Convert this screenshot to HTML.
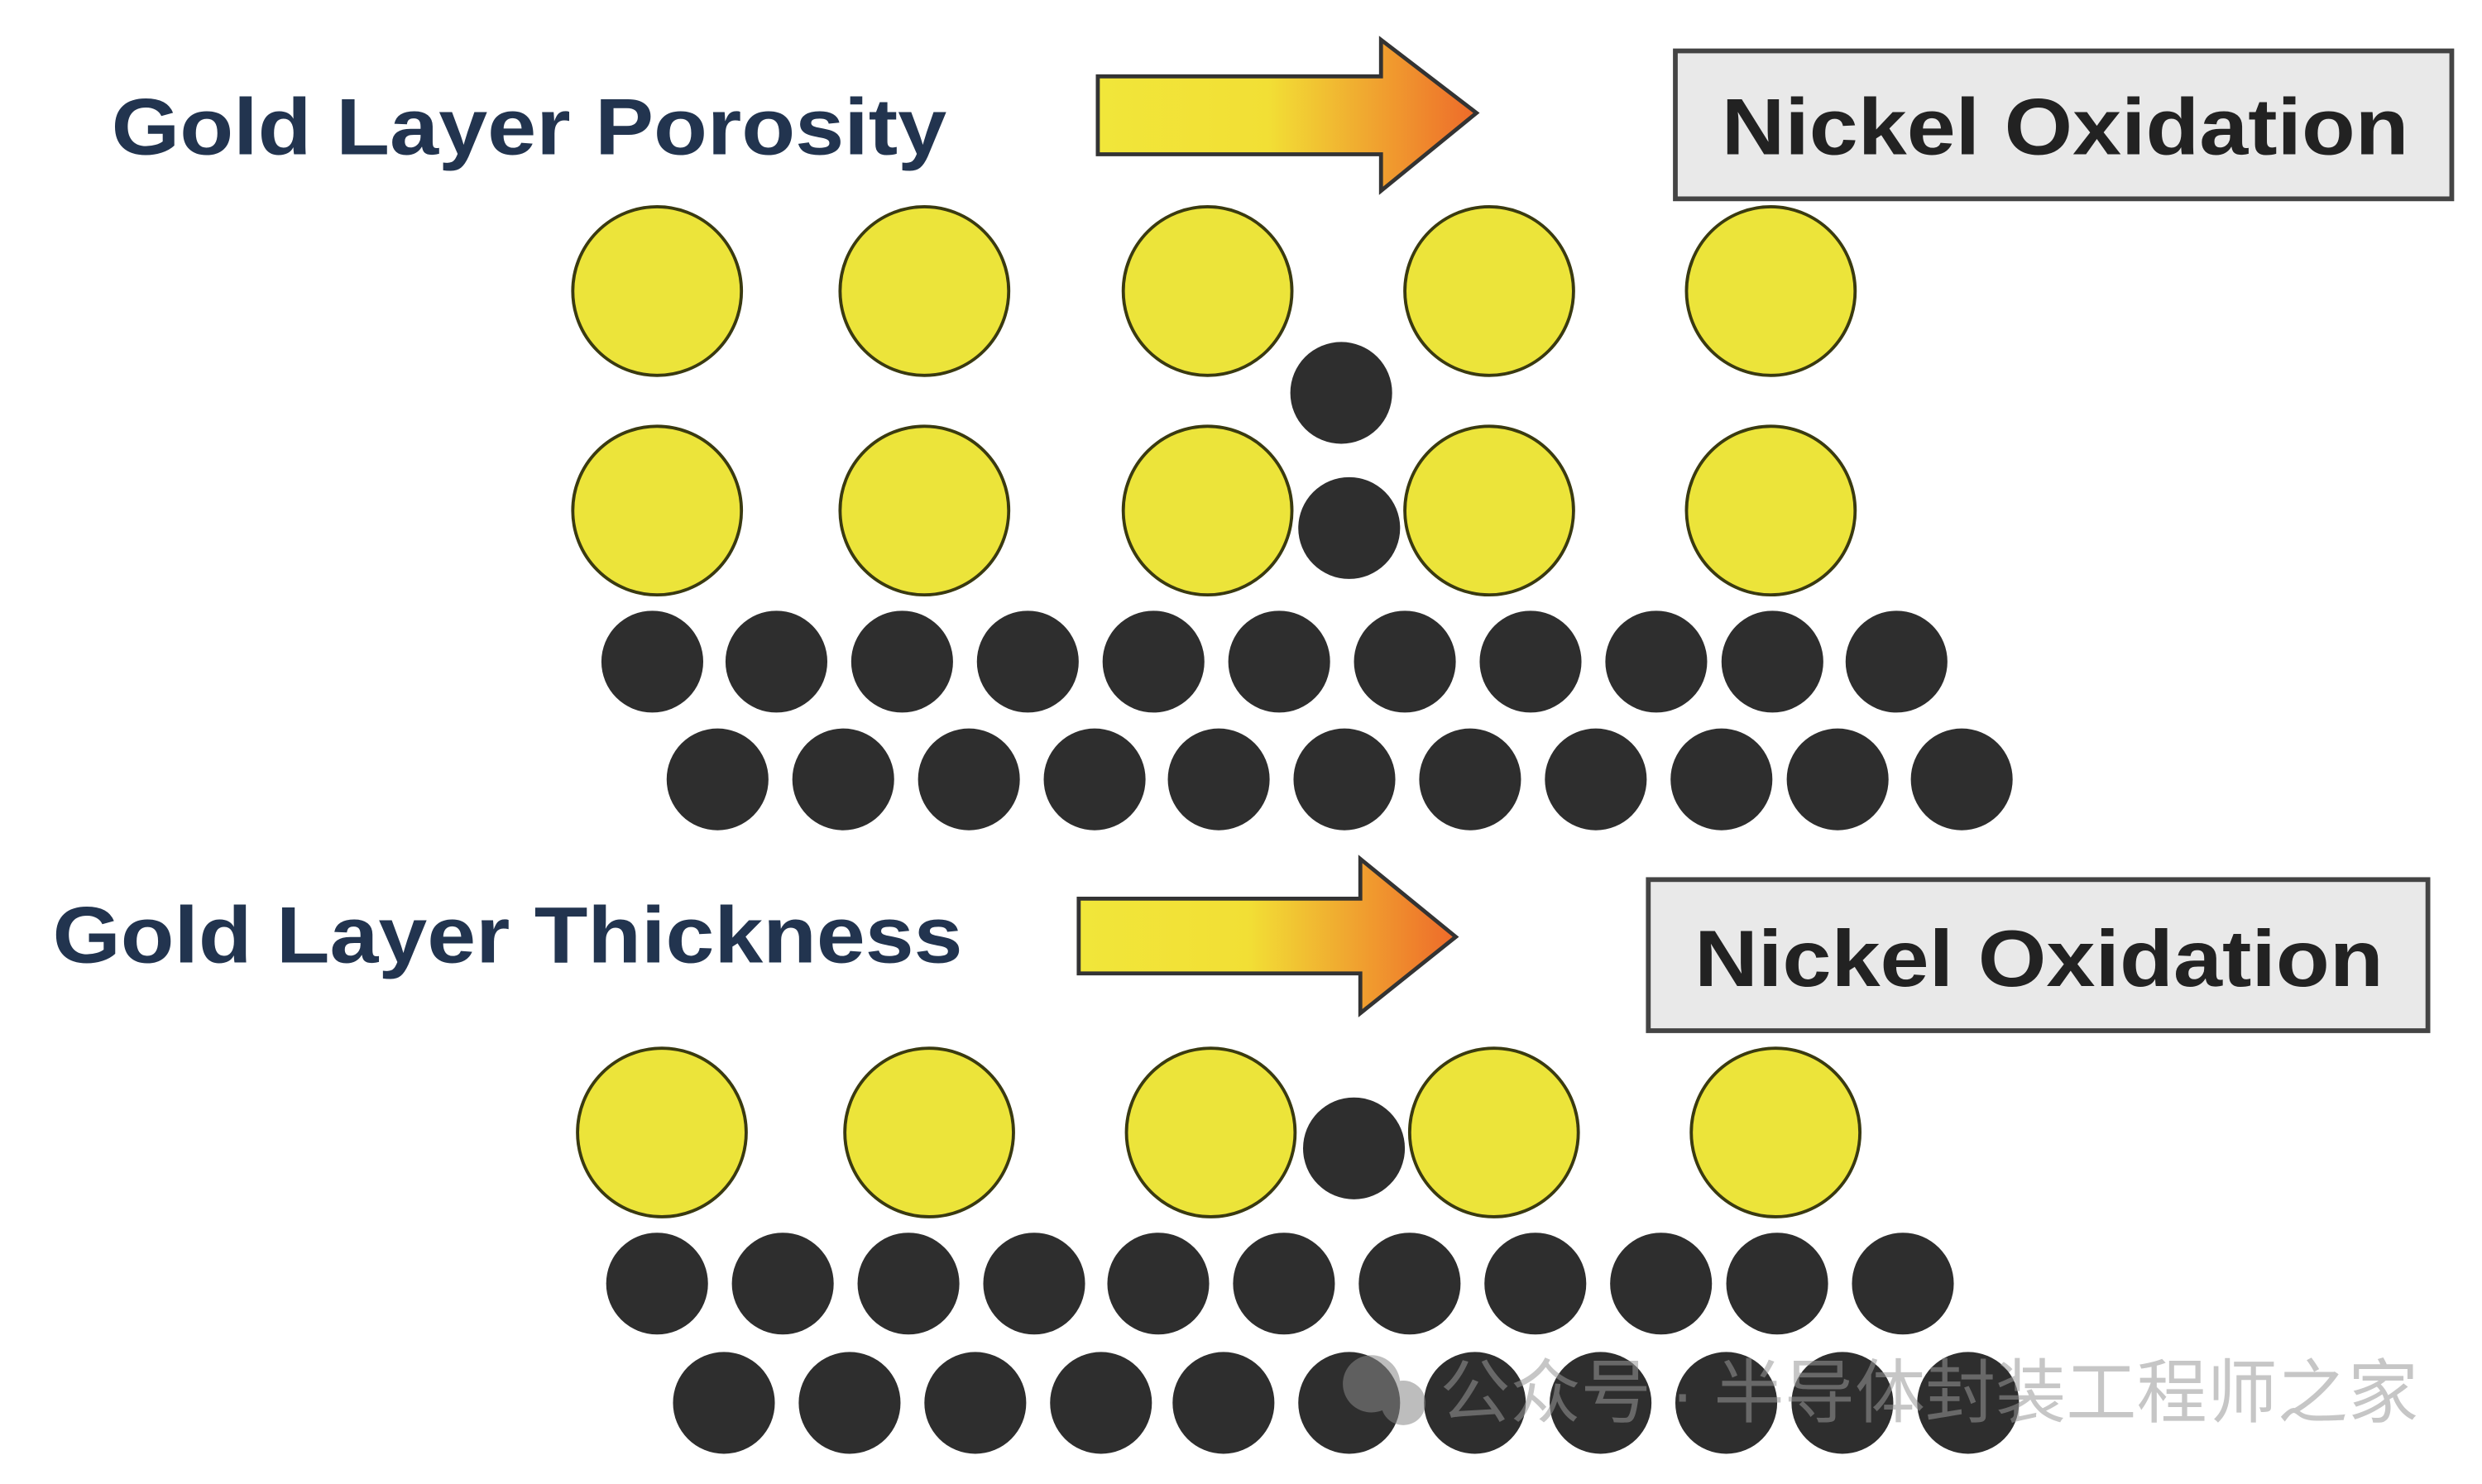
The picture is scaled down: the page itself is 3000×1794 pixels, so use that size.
<!DOCTYPE html>
<html><head><meta charset="utf-8"><style>html,body{margin:0;padding:0;background:#fff}svg{display:block}</style></head>
<body>
<svg width="3000" height="1794" viewBox="0 0 1560 933" preserveAspectRatio="none" xmlns="http://www.w3.org/2000/svg">
<defs>
<linearGradient id="g" x1="0" x2="1" y1="0" y2="0">
<stop offset="0" stop-color="#f1e63a"/><stop offset="0.45" stop-color="#f2df35"/><stop offset="1" stop-color="#ee6a2a"/>
</linearGradient>
</defs>
<rect width="1560" height="933" fill="#fff"/>
<g font-family="Liberation Sans, sans-serif" font-weight="bold">
<text x="70" y="97" font-size="50" fill="#22344f" textLength="525" lengthAdjust="spacingAndGlyphs">Gold Layer Porosity</text>
<text x="33" y="605" font-size="50" fill="#22344f" textLength="572" lengthAdjust="spacingAndGlyphs">Gold Layer Thickness</text>
</g>
<path d="M690,48 H868 V25 L928,71 L868,120 V97 H690 Z" fill="url(#g)" stroke="#333" stroke-width="2.5"/>
<path d="M678,565 H855 V540 L915,589 L855,637 V612 H678 Z" fill="url(#g)" stroke="#333" stroke-width="2.5"/>
<rect x="1053" y="32" width="488" height="93" fill="#e9e9e9" stroke="#444" stroke-width="3"/>
<rect x="1036" y="553" width="490" height="95" fill="#e9e9e9" stroke="#444" stroke-width="3"/>
<g font-family="Liberation Sans, sans-serif" font-weight="bold" font-size="50" fill="#222">
<text x="1082" y="97" textLength="432" lengthAdjust="spacingAndGlyphs">Nickel Oxidation</text>
<text x="1065" y="620" textLength="433" lengthAdjust="spacingAndGlyphs">Nickel Oxidation</text>
</g>
<g fill="#2e2e2e">
<circle cx="843" cy="247" r="32"/>
<circle cx="848" cy="332" r="32"/>
<circle cx="851" cy="722" r="32"/>
</g>
<g fill="#ece43a" stroke="#3a3a10" stroke-width="2">
<circle cx="413" cy="183" r="53"/><circle cx="581" cy="183" r="53"/><circle cx="759" cy="183" r="53"/><circle cx="936" cy="183" r="53"/><circle cx="1113" cy="183" r="53"/>
<circle cx="413" cy="321" r="53"/><circle cx="581" cy="321" r="53"/><circle cx="759" cy="321" r="53"/><circle cx="936" cy="321" r="53"/><circle cx="1113" cy="321" r="53"/>
<circle cx="416" cy="712" r="53"/><circle cx="584" cy="712" r="53"/><circle cx="761" cy="712" r="53"/><circle cx="939" cy="712" r="53"/><circle cx="1116" cy="712" r="53"/>
</g>
<circle cx="848" cy="332" r="32" fill="#2e2e2e" clip-path="none" opacity="0"/>
<g fill="#2e2e2e">
<circle cx="410" cy="416" r="32"/><circle cx="488" cy="416" r="32"/><circle cx="567" cy="416" r="32"/><circle cx="646" cy="416" r="32"/><circle cx="725" cy="416" r="32"/><circle cx="804" cy="416" r="32"/><circle cx="883" cy="416" r="32"/><circle cx="962" cy="416" r="32"/><circle cx="1041" cy="416" r="32"/><circle cx="1114" cy="416" r="32"/><circle cx="1192" cy="416" r="32"/>
<circle cx="451" cy="490" r="32"/><circle cx="530" cy="490" r="32"/><circle cx="609" cy="490" r="32"/><circle cx="688" cy="490" r="32"/><circle cx="766" cy="490" r="32"/><circle cx="845" cy="490" r="32"/><circle cx="924" cy="490" r="32"/><circle cx="1003" cy="490" r="32"/><circle cx="1082" cy="490" r="32"/><circle cx="1155" cy="490" r="32"/><circle cx="1233" cy="490" r="32"/>
<circle cx="413" cy="807" r="32"/><circle cx="492" cy="807" r="32"/><circle cx="571" cy="807" r="32"/><circle cx="650" cy="807" r="32"/><circle cx="728" cy="807" r="32"/><circle cx="807" cy="807" r="32"/><circle cx="886" cy="807" r="32"/><circle cx="965" cy="807" r="32"/><circle cx="1044" cy="807" r="32"/><circle cx="1117" cy="807" r="32"/><circle cx="1196" cy="807" r="32"/>
<circle cx="455" cy="882" r="32"/><circle cx="534" cy="882" r="32"/><circle cx="613" cy="882" r="32"/><circle cx="692" cy="882" r="32"/><circle cx="769" cy="882" r="32"/><circle cx="848" cy="882" r="32"/><circle cx="927" cy="882" r="32"/><circle cx="1006" cy="882" r="32"/><circle cx="1085" cy="882" r="32"/><circle cx="1158" cy="882" r="32"/><circle cx="1237" cy="882" r="32"/>
</g>
<g opacity="0.55">
<circle cx="862" cy="870" r="18" fill="#888"/><circle cx="882" cy="882" r="14" fill="#888"/>
<text x="905" y="891" font-family="Liberation Sans, Noto Sans CJK SC, sans-serif" font-size="44" fill="#999" textLength="615" lengthAdjust="spacingAndGlyphs">公众号 · 半导体封装工程师之家</text>
</g>
</svg>
</body></html>
